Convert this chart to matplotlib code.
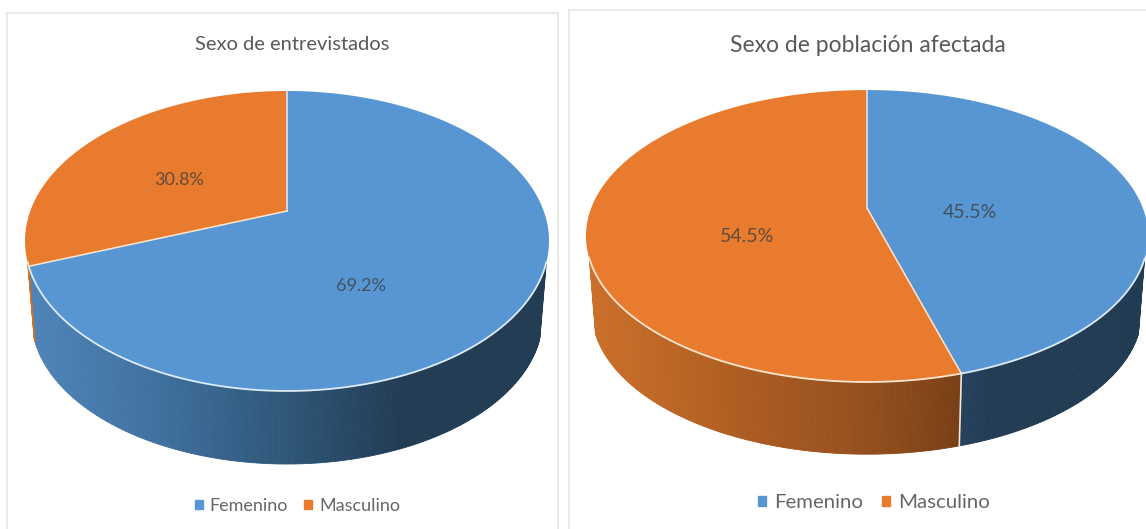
import numpy as np
from matplotlib import pyplot as plt
from matplotlib.collections import PolyCollection
from matplotlib.patches import Patch

plt.rcParams['font.family'] = ['Lato', 'DejaVu Sans']

categorias = ['Femenino', 'Masculino']
colores = ['#5896D3', '#E97B2E']
titulos = ['Sexo de entrevistados', 'Sexo de población afectada']

entrevistados = [69.2, 30.8]
afectada = [45.5, 54.5]

# donde caen las etiquetas de porcentaje en cada grafica (x, y en pixeles)
etiquetas_1 = [(361, 286), (179, 180)]
etiquetas_2 = [(970, 212), (747, 236)]

# tono de la pared lateral segun posicion horizontal (0 izquierda, 1 derecha)
stops = [0, 0.25, 0.5, 0.72, 1]
pared_azul = [(0.31, 0.52, 0.73), (0.25, 0.44, 0.62), (0.18, 0.34, 0.47), (0.135, 0.235, 0.33), (0.135, 0.235, 0.33)]
pared_naranja = [(0.80, 0.44, 0.17), (0.69, 0.37, 0.13), (0.58, 0.31, 0.12), (0.44, 0.23, 0.07), (0.38, 0.20, 0.06)]
paredes = [pared_azul, pared_naranja]
bordes = ['#DCEBF8', '#FCE6CF']
limite = -0.33  # la pared solo se ve por debajo de este seno


def proyectar(theta, geo, escala=1.0, y0=None):
  # circulo unidad visto en perspectiva, el apice no queda al centro de la elipse
  cx, cy, r, a, k = geo
  if y0 is None:
    y0 = cy
  u, v = np.cos(theta), np.sin(theta)
  s = 1 + k*v
  return cx + escala*r*u/s, y0 - escala*a*v/s


def color_pared(i, t):
  return [np.interp(t, stops, [c[j] for c in paredes[i]]) for j in range(3)]


def graficar(ax, valores, geo, escala, y0, etiquetas, titulo, titulo_x, titulo_y, titulo_pt, etiqueta_pt, leg_x, leg_y, leg_pt, mano, espacio):
  cortes = np.pi/2 - 2*np.pi*np.cumsum([0] + valores)/sum(valores)
  ancho = proyectar(np.linspace(0, 2*np.pi, 721), geo)[0]
  izq, der = ancho.min(), ancho.max()

  # paredes: tiras finas entre el borde de arriba y el de abajo
  for i in range(len(valores)):
    th = np.linspace(cortes[i], cortes[i+1], 361)
    th = th[np.sin(th) < limite]
    if len(th) < 2:
      continue
    x1, y1 = proyectar(th, geo)
    x2, y2 = proyectar(th, geo, escala, y0)
    tiras = [[(x1[n], y1[n]), (x1[n+1], y1[n+1]), (x2[n+1], y2[n+1]), (x2[n], y2[n])] for n in range(len(th)-1)]
    tonos = [color_pared(i, ((x1[n] + x1[n+1])/2 - izq)/(der - izq)) for n in range(len(th)-1)]
    ax.add_collection(PolyCollection(tiras, facecolors=tonos, edgecolors=tonos, linewidths=0.6))

  # costura de pared donde cambia de porcion al frente
  for c in cortes[:-1]:
    if np.sin(c) < -0.5:
      x1, y1 = proyectar(c, geo)
      x2, y2 = proyectar(c, geo, escala, y0)
      ax.plot([x1, x2], [y1, y2], color='#F3E6DA', lw=1.2)

  # cara superior
  for i in range(len(valores)):
    th = np.linspace(cortes[i], cortes[i+1], 361)
    x, y = proyectar(th, geo)
    ax.fill(np.r_[geo[0], x], np.r_[geo[1], y], color=colores[i], lw=0)
  for i in range(len(valores)):
    th = np.linspace(cortes[i], cortes[i+1], 361)
    x, y = proyectar(th, geo)
    frente = np.sin(th) < limite
    ax.plot(x[frente], y[frente], color=bordes[i], lw=1.3)
    ax.plot([geo[0], x[0]], [geo[1], y[0]], color=bordes[i], lw=1.1)

  for i in range(len(valores)):
    ax.text(etiquetas[i][0], etiquetas[i][1], '%.1f%%' % valores[i], ha='center', va='center',
            fontsize=etiqueta_pt, color='#404040', alpha=0.8)

  ax.text(titulo_x, titulo_y, titulo, ha='center', va='center', fontsize=titulo_pt, color='#595959')

  manos = [Patch(color=colores[i], label=categorias[i]) for i in range(len(categorias))]
  ax.legend(handles=manos, ncol=2, frameon=False, loc='center', bbox_to_anchor=(leg_x, leg_y),
            bbox_transform=ax.transData, fontsize=leg_pt, handlelength=mano, handleheight=mano,
            handletextpad=0.4, columnspacing=espacio, borderpad=0, labelcolor='#666666')


fig = plt.figure(figsize=(11.46, 5.29), dpi=100)
W, H = 1146., 529.

# (x0, y0, x1, y1) de cada recuadro en pixeles
recuadros = [(7, 13, 558, 540), (569, 10, 1160, 540)]
geos = [(287, 211, 256.7, 144, 0.2), (867, 208, 275.8, 140.6, 0.192)]
escalas = [0.975, 0.978]
pisos = [288.5, 284]

axes = []
for r in recuadros:
  ax = fig.add_axes([r[0]/W, 1 - r[3]/H, (r[2] - r[0])/W, (r[3] - r[1])/H])
  ax.set_xlim(r[0], r[2])
  ax.set_ylim(r[3], r[1])
  ax.set_xticks([])
  ax.set_yticks([])
  for s in ax.spines.values():
    s.set_color('#E6E6E6')
    s.set_linewidth(1.2)
  axes.append(ax)

graficar(axes[0], entrevistados, geos[0], escalas[0], pisos[0], etiquetas_1, titulos[0], 292, 45, 14.5, 13, 297.5, 506, 13, 0.42, 0.88)
graficar(axes[1], afectada, geos[1], escalas[1], pisos[1], etiquetas_2, titulos[1], 868, 46, 16.5, 14, 874, 503, 14.7, 0.4, 0.9)

fig.savefig('out.png', dpi=100)
